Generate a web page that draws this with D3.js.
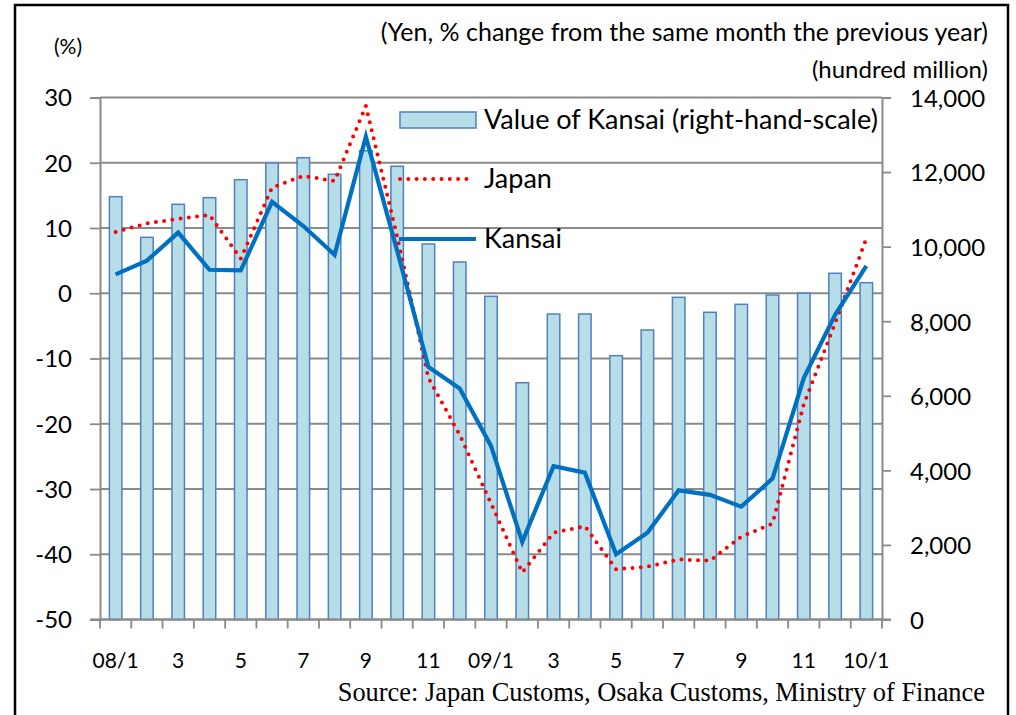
<!DOCTYPE html>
<html>
<head>
<meta charset="utf-8">
<script src="https://cdn.jsdelivr.net/npm/d3@7"></script>
<style>
  body { margin: 0; background: #fff; }
  svg { display: block; font-family: Lato, "Open Sans", sans-serif; }
</style>
</head>
<body>
<div id="chart"></div>
<script>
// months 08/1 .. 10/1
const months = ['08/1','2','3','4','5','6','7','8','9','10','11','12',
  '09/1','2','3','4','5','6','7','8','9','10','11','12','10/1'];

// value of Kansai (hundred million yen), right-hand scale
const kansaiValue = [11340, 10250, 11135, 11313, 11795, 12243, 12386, 11940, 12573, 12155,
  10071, 9588, 8668, 6351, 8193, 8193, 7075, 7764, 8641, 8239, 8453, 8703, 8748, 9285, 9033];

// % change from same month previous year
const kansaiPct = [2.9, 5.0, 9.3, 3.6, 3.5, 14.0, 10.3, 5.9, 24.0, 6.5,
  -11.3, -14.6, -23.4, -38.1, -26.5, -27.5, -40.0, -36.7, -30.2, -30.9, -32.7, -28.4, -13.0, -3.3, 4.2];
const japanPct = [9.4, 10.7, 11.4, 12.0, 5.3, 16.2, 18.0, 17.2, 28.7, 8.7,
  -13.0, -21.7, -32.2, -42.8, -36.7, -35.7, -42.3, -41.9, -40.8, -41.0, -37.3, -35.3, -17.0, -4.6, 8.4];

const leftTicks = [30, 20, 10, 0, -10, -20, -30, -40, -50];
const rightTicks = [0, 2000, 4000, 6000, 8000, 10000, 12000, 14000];

const W = 1016, H = 715;
const plot = { left: 100, right: 882, top: 97.5, bottom: 619.5 };

const svg = d3.select('#chart').append('svg')
  .attr('width', W).attr('height', H);

// outer frame
svg.append('rect')
  .attr('x', 15).attr('y', 5).attr('width', 993).attr('height', 720)
  .attr('fill', 'none').attr('stroke', '#000').attr('stroke-width', 2.5);

const x = d3.scaleBand().domain(d3.range(months.length))
  .range([plot.left, plot.right]).paddingInner(0.6).paddingOuter(0.3);
const xStep = x.step();
const xc = i => x(i) + x.bandwidth() / 2;

const yL = d3.scaleLinear().domain([-50, 30]).range([plot.bottom, plot.top]);
const yR = d3.scaleLinear().domain([0, 14000]).range([plot.bottom, plot.top]);

// gridlines
svg.append('g').selectAll('line').data(leftTicks).join('line')
  .attr('x1', plot.left).attr('x2', plot.right)
  .attr('y1', d => yL(d)).attr('y2', d => yL(d))
  .attr('stroke', '#8a8a8a').attr('stroke-width', 1.8);

// bars
svg.append('g').selectAll('rect').data(kansaiValue).join('rect')
  .attr('x', (d, i) => x(i))
  .attr('y', d => yR(d))
  .attr('width', x.bandwidth())
  .attr('height', d => yR(0) - yR(d))
  .attr('fill', '#b7dde8')
  .attr('stroke', '#4f81bd')
  .attr('stroke-width', 1.5);

// left axis (plain hyphen minus like the original)
const leftAxis = d3.axisLeft(yL).tickValues(leftTicks).tickSize(10).tickPadding(18)
  .tickFormat(d => String(d));
const gl = svg.append('g').attr('transform', `translate(${plot.left},0)`).call(leftAxis);
gl.select('.domain').attr('stroke', '#8a8a8a').attr('stroke-width', 2);
gl.selectAll('.tick line').attr('stroke', '#8a8a8a').attr('stroke-width', 1.8);
gl.selectAll('.tick text').attr('font-size', 24).attr('font-family', 'Lato').attr('fill', '#000')
  .attr('dy', '0.35em');

// right axis
const rightAxis = d3.axisRight(yR).tickValues(rightTicks).tickSize(9).tickPadding(19)
  .tickFormat(d3.format(','));
const gr = svg.append('g').attr('transform', `translate(${plot.right},0)`).call(rightAxis);
gr.select('.domain').attr('stroke', '#8a8a8a').attr('stroke-width', 2);
gr.selectAll('.tick line').attr('stroke', '#8a8a8a').attr('stroke-width', 1.8);
gr.selectAll('.tick text').attr('font-size', 24).attr('font-family', 'Lato').attr('fill', '#000')
  .attr('dy', '0.37em');

// bottom axis: ticks at category boundaries
const bottom = svg.append('g');
bottom.append('line')
  .attr('x1', plot.left - 10).attr('x2', plot.right + 9)
  .attr('y1', plot.bottom).attr('y2', plot.bottom)
  .attr('stroke', '#8a8a8a').attr('stroke-width', 2);
bottom.selectAll('line.tk').data(d3.range(months.length + 1)).join('line')
  .attr('class', 'tk')
  .attr('x1', i => plot.left + i * xStep).attr('x2', i => plot.left + i * xStep)
  .attr('y1', plot.bottom).attr('y2', plot.bottom + 9)
  .attr('stroke', '#8a8a8a').attr('stroke-width', 1.8);
bottom.selectAll('text').data(months.map((m, i) => ({ m, i })).filter(d => d.i % 2 === 0)).join('text')
  .attr('x', d => xc(d.i)).attr('y', 661).attr('dy', '0.35em')
  .attr('text-anchor', 'middle').attr('font-size', 21)
  .text(d => d.m);

// lines
const lineL = d3.line().x((d, i) => xc(i)).y(d => yL(d));
svg.append('path').datum(japanPct)
  .attr('d', lineL)
  .attr('fill', 'none').attr('stroke', '#ff0000').attr('stroke-width', 4)
  .attr('stroke-linecap', 'round').attr('stroke-dasharray', '0 8.3');
svg.append('path').datum(kansaiPct)
  .attr('d', lineL)
  .attr('fill', 'none').attr('stroke', '#0070c0').attr('stroke-width', 4.2)
  .attr('stroke-linejoin', 'miter');

// legend
const lg = svg.append('g');
lg.append('rect').attr('x', 400).attr('y', 112).attr('width', 76).attr('height', 16)
  .attr('fill', '#b7dde8').attr('stroke', '#4f81bd').attr('stroke-width', 1.5);
lg.append('line').attr('x1', 400).attr('x2', 470).attr('y1', 179).attr('y2', 179)
  .attr('stroke', '#ff0000').attr('stroke-width', 4).attr('stroke-linecap', 'round')
  .attr('stroke-dasharray', '0 8.3');
lg.append('line').attr('x1', 399).attr('x2', 476).attr('y1', 239).attr('y2', 239)
  .attr('stroke', '#0070c0').attr('stroke-width', 4.2);
const legendText = ['Value of Kansai (right-hand-scale)', 'Japan', 'Kansai'];
const legendY = [120, 179, 239];
lg.selectAll('text').data(legendText).join('text')
  .attr('x', 484).attr('y', (d, i) => legendY[i]).attr('dy', '0.35em')
  .attr('font-size', 27).text(d => d);

// titles
svg.append('text').attr('x', 988).attr('y', 32).attr('dy', '0.35em')
  .attr('text-anchor', 'end').attr('font-size', 25)
  .text('(Yen, % change from the same month the previous year)');
svg.append('text').attr('x', 988).attr('y', 70).attr('dy', '0.35em')
  .attr('text-anchor', 'end').attr('font-size', 24)
  .text('(hundred million)');
svg.append('text').attr('x', 68).attr('y', 47).attr('dy', '0.35em')
  .attr('text-anchor', 'middle').attr('font-size', 21)
  .text('(%)');
svg.append('text').attr('x', 985).attr('y', 692).attr('dy', '0.35em')
  .attr('text-anchor', 'end').attr('font-size', 26.4)
  .attr('font-family', '"Liberation Serif", "Times New Roman", serif')
  .text('Source: Japan Customs, Osaka Customs, Ministry of Finance');
</script>
</body>
</html>
